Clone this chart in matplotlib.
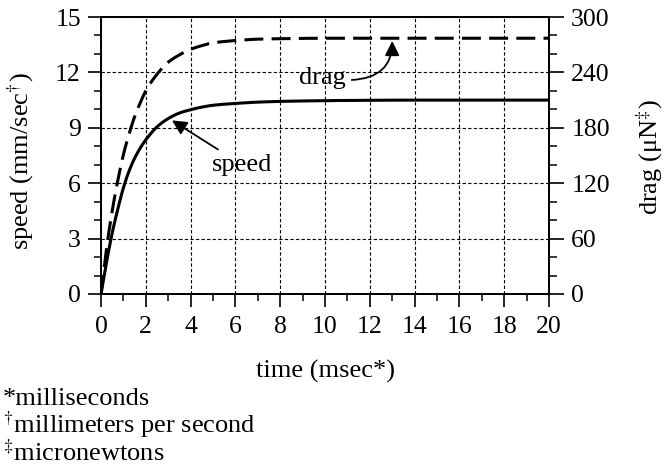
import numpy as np
import matplotlib
matplotlib.use("Agg")
import matplotlib.pyplot as plt
from matplotlib.ticker import MultipleLocator

plt.rcParams["font.family"] = ["Liberation Serif", "DejaVu Serif"]
plt.rcParams["mathtext.fontset"] = "stix"

# Response after start-up: time (ms), speed (mm/s), drag (uN)
time_ms = [0, 0.25, 0.5, 0.75, 1, 1.25, 1.5, 1.75, 2, 2.5, 3, 3.5, 4, 4.5, 5,
           6, 7, 8, 10, 12, 14, 16, 18, 20]
speed_mm_s = [0, 1.75, 3.3, 4.6, 5.75, 6.65, 7.35, 7.9, 8.35, 9.05, 9.5, 9.8,
              9.98, 10.12, 10.22, 10.32, 10.39, 10.43, 10.47, 10.49, 10.5,
              10.5, 10.5, 10.5]
drag_uN = [0, 50, 90, 123, 151, 173, 192, 207, 220, 238, 251, 259, 265, 269,
           272, 274.5, 276, 276.5, 277, 277, 277, 277, 277, 277]

x_ticks = list(range(0, 21, 2))
speed_ticks = list(range(0, 16, 3))
drag_ticks = list(range(0, 301, 60))


def pchip(x, y, xn):
    """Monotone cubic Hermite interpolation through (x, y)."""
    x = np.asarray(x, float)
    y = np.asarray(y, float)
    h = np.diff(x)
    d = np.diff(y) / h
    m = np.zeros_like(y)
    m[0], m[-1] = d[0], d[-1]
    for k in range(1, len(x) - 1):
        if d[k - 1] * d[k] > 0:
            w1 = 2 * h[k] + h[k - 1]
            w2 = h[k] + 2 * h[k - 1]
            m[k] = (w1 + w2) / (w1 / d[k - 1] + w2 / d[k])
    idx = np.clip(np.searchsorted(x, xn) - 1, 0, len(x) - 2)
    t = (xn - x[idx]) / h[idx]
    h00 = 2 * t**3 - 3 * t**2 + 1
    h10 = t**3 - 2 * t**2 + t
    h01 = -2 * t**3 + 3 * t**2
    h11 = t**3 - t**2
    return (h00 * y[idx] + h10 * h[idx] * m[idx]
            + h01 * y[idx + 1] + h11 * h[idx] * m[idx + 1])


W, H = 665, 471
fig = plt.figure(figsize=(W / 100, H / 100), dpi=100)
ax = fig.add_axes([101 / W, 1 - 294 / H, 448 / W, 277 / H])
ax2 = ax.twinx()

tt = np.linspace(0, 20, 1001)
ax.plot(tt, pchip(time_ms, speed_mm_s, tt), color="black", lw=2.2,
        solid_capstyle="round", zorder=3)
ax2.plot(tt, pchip(time_ms, drag_uN, tt), color="black", lw=2.2,
         dashes=(6.2, 2.7), zorder=3)

ax.set_xlim(0, 20)
ax.set_ylim(0, 15)
ax2.set_ylim(0, 300)

ax.set_xticks(x_ticks)
ax.set_yticks(speed_ticks)
ax2.set_yticks(drag_ticks)
ax.xaxis.set_minor_locator(MultipleLocator(1))
ax.yaxis.set_minor_locator(MultipleLocator(1))
ax2.yaxis.set_minor_locator(MultipleLocator(20))

ax.grid(True, which="major", color="black", lw=0.8, ls=(0, (3, 2)))
ax.set_axisbelow(True)

for a in (ax, ax2):
    for s in a.spines.values():
        s.set_linewidth(1.3)
    a.tick_params(which="major", direction="out", length=9.5, width=1.2,
                  labelsize=18.5, pad=5, colors="black")
    a.tick_params(which="minor", direction="out", length=5, width=1.1)
ax.tick_params(axis="y", which="both", right=False)
ax.tick_params(axis="x", which="major", pad=6)
ax2.tick_params(which="major", length=11)
ax2.tick_params(which="minor", length=6)

ax.set_xlabel("time (msec*)", fontsize=19)
ax.xaxis.label.set_va("center")
ax.xaxis.set_label_coords(0.5, -0.28)

ax.set_ylabel(r"speed (mm/sec$^{\dagger}$)", fontsize=19)
ax.yaxis.label.set_va("center")
ax.yaxis.set_label_coords(-0.179, 0.48)

ax2.set_ylabel(r"drag (μN$^{\ddagger}$)", fontsize=19)
ax2.yaxis.label.set_va("center")
ax2.yaxis.set_label_coords(1.225, 0.495)

ax2.annotate("speed", xy=(3.17, 188), xytext=(6.3, 140), fontsize=19,
             ha="center", va="center",
             arrowprops=dict(arrowstyle="-|>", color="black", lw=1.3,
                             mutation_scale=22, shrinkB=0))
ax2.annotate("drag", xy=(13.0, 274), xytext=(9.9, 234), fontsize=19,
             ha="center", va="center",
             arrowprops=dict(arrowstyle="-|>", color="black", lw=1.3,
                             mutation_scale=22, shrinkA=2, shrinkB=0,
                             relpos=(1.0, 0.4),
                             connectionstyle="angle3,angleA=0,angleB=90"))

notes = ["*milliseconds",
         r"$^{\dagger}$millimeters per second",
         r"$^{\ddagger}$micronewtons"]
for text, ypix in zip(notes, [405, 433, 461]):
    fig.text(3 / W, 1 - ypix / H, text, fontsize=19, va="baseline", ha="left")

fig.savefig("out.png", dpi=100)
